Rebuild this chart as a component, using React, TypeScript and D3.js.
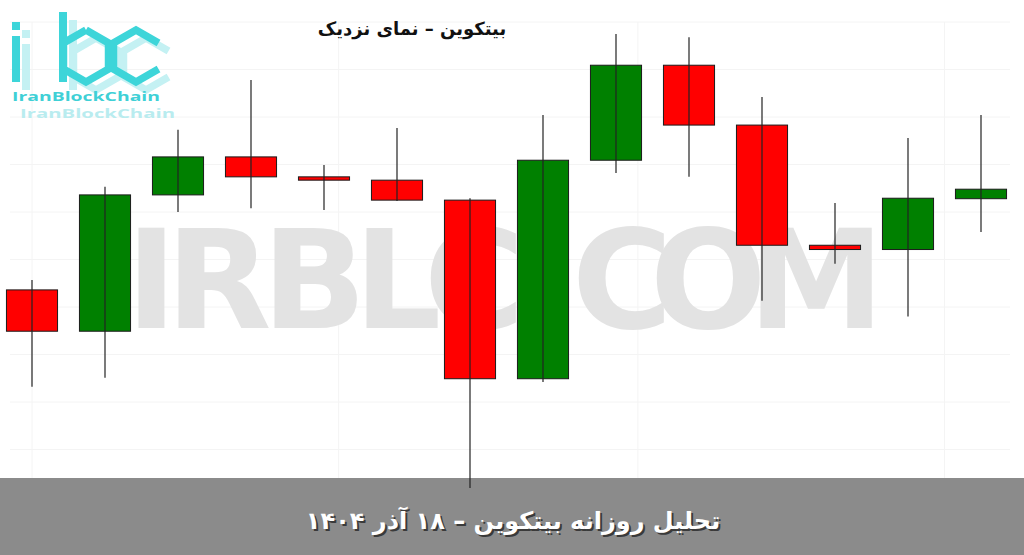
import * as d3 from "d3";

// daily candles (price units are arbitrary, no axis shown)
const days = ["1", "2", "3", "4", "5", "6", "7", "8", "9", "10", "11", "12", "13", "14"];
const opens = [91680, 91245, 92680, 93080, 92870, 92835, 92625, 90745, 93045, 94045, 93415, 92150, 92105, 92640];
const highs = [91785, 92765, 93365, 93890, 92995, 93385, 92645, 93520, 94375, 94340, 93710, 92595, 93280, 93520];
const lows = [90660, 90755, 92500, 92540, 92520, 92615, 89595, 90710, 92910, 92870, 91565, 91955, 91400, 92290];
const closes = [91245, 92680, 93080, 92870, 92835, 92625, 90745, 93045, 94045, 93415, 92150, 92105, 92645, 92740];

const gridPrices = [94500, 94000, 93500, 93000, 92500, 92000, 91500, 91000, 90500, 90000];
const gridCols = [0, 4.2, 8.3, 12.5];

const title = "بیتکوین – نمای نزدیک";
const banner = "تحلیل روزانه بیتکوین – ۱۸ آذر ۱۴۰۴";
const watermark = "IRBLC.COM";
const watermarkX = "126 166 262 354 424 526 572 650 748";
const brand = "IranBlockChain";

const W = 1024;
const H = 555;

function hexPoints(cx: number, cy: number, r: number, angles: number[]) {
  return angles.map((a) => [cx + r * Math.cos((a * Math.PI) / 180), cy + r * Math.sin((a * Math.PI) / 180)] as [number, number]);
}

function Logo({ dx, dy, color }: { dx: number; dy: number; color: string }) {
  const line = d3.line();
  const bowl = hexPoints(86 + dx, 56 + dy, 26, [-90, -30, 30, 90, 150, 210, 270]);
  const cShape = hexPoints(136 + dx, 56 + dy, 26, [-30, -90, -150, 150, 90, 30]);
  return (
    <g fill="none" stroke={color} strokeWidth={7.5} strokeLinejoin="miter">
      <rect x={12 + dx} y={22 + dy} width={8} height={8} fill={color} stroke="none" />
      <rect x={12 + dx} y={36 + dy} width={8} height={46} fill={color} stroke="none" />
      <rect x={59 + dx} y={12 + dy} width={8} height={70} fill={color} stroke="none" />
      <path d={line(bowl) ?? ""} />
      <path d={line(cShape) ?? ""} />
    </g>
  );
}

export default function App() {
  const x = d3.scaleBand<string>().domain(days).range([-4.5, 1017.5]).paddingInner(0.3).paddingOuter(0.15);
  const xi = d3.scaleLinear().domain([0, 13]).range([x(days[0])! + x.bandwidth() / 2, x(days[13])! + x.bandwidth() / 2]);
  const y = d3.scaleLinear().domain([90000, 94500]).range([449.5, 22]);

  return (
    <svg width={W} height={H} style={{ position: "absolute", left: 0, top: 0, background: "#fff" }}>
      <rect width={W} height={H} fill="#fff" />
      {/* faint grid */}
      <g stroke="#f4f4f4" strokeWidth={1}>
        {gridPrices.map((p) => (
          <line key={p} x1={10} x2={1010} y1={y(p)} y2={y(p)} />
        ))}
        {gridCols.map((c) => (
          <line key={c} x1={xi(c)} x2={xi(c)} y1={22} y2={478} />
        ))}
      </g>

      {/* watermark */}
      <text x={watermarkX} y={328} fontFamily="'DejaVu Sans', sans-serif" fontWeight={700} fontSize={137}
        fill="#e3e3e3">{watermark}</text>

      {/* logo */}
      <Logo dx={10} dy={8} color="#c4f1f3" />
      <Logo dx={0} dy={0} color="#3dd5d9" />
      <text x={12} y={101} fontFamily="'Open Sans', sans-serif" fontWeight={700} fontSize={13} fill="#3fd0d6"
        textLength={148} lengthAdjust="spacingAndGlyphs">{brand}</text>
      <text x={20} y={118} fontFamily="'Open Sans', sans-serif" fontWeight={700} fontSize={13} fill="#b9ecef"
        textLength={155} lengthAdjust="spacingAndGlyphs">{brand}</text>

      {/* title */}
      <text x={412} y={35} textAnchor="middle" fontFamily="'DejaVu Sans', sans-serif" fontWeight={700} fontSize={18}
        fill="#111">{title}</text>

      {/* candles */}
      {days.map((d, i) => {
        const up = closes[i] >= opens[i];
        const top = y(Math.max(opens[i], closes[i]));
        const bot = y(Math.min(opens[i], closes[i]));
        const cx = x(d)! + x.bandwidth() / 2;
        return (
          <g key={d}>
            <rect x={x(d)} y={top} width={x.bandwidth()} height={Math.max(bot - top, 1)}
              fill={up ? "#008000" : "#ff0000"} stroke="#1b1b1b" strokeWidth={1} />
            <line x1={cx} x2={cx} y1={y(highs[i])} y2={y(lows[i])} stroke="#222" strokeWidth={1.2} />
          </g>
        );
      })}

      {/* bottom banner */}
      <rect x={0} y={478} width={W} height={H - 478} fill="#8b8b8b" />
      <line x1={xi(6)} x2={xi(6)} y1={478} y2={y(lows[6])} stroke="#222" strokeWidth={1.2} />
      <text x={515} y={531} textAnchor="middle" fontFamily="'DejaVu Sans', sans-serif" fontWeight={700} fontSize={24}
        fill="#3a3a3a">{banner}</text>
      <text x={513} y={529} textAnchor="middle" fontFamily="'DejaVu Sans', sans-serif" fontWeight={700} fontSize={24}
        fill="#fff">{banner}</text>
    </svg>
  );
}
